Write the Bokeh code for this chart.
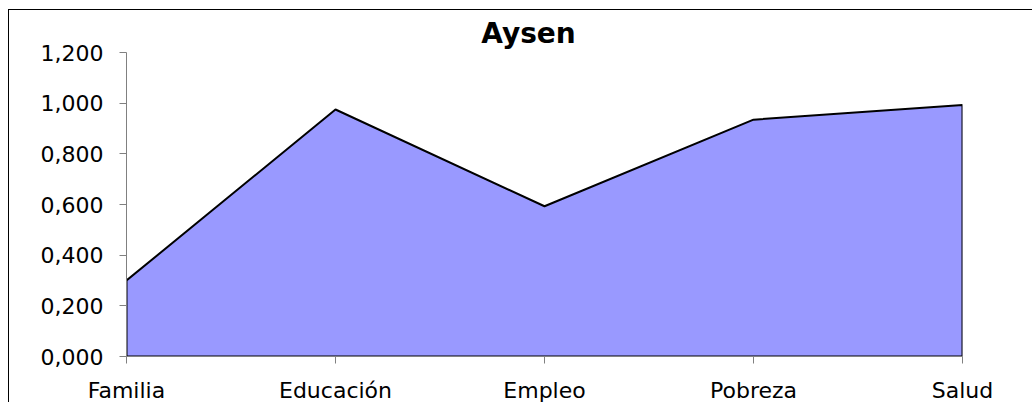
from bokeh.plotting import figure
from bokeh.models import FixedTicker, CustomJSTickFormatter, Range1d, Label
from bokeh.embed import file_html
from bokeh.resources import INLINE

title_text = "Aysen"
categories = ["Familia", "Educación", "Empleo", "Pobreza", "Salud"]
values = [0.300, 0.975, 0.593, 0.935, 0.993]
y_ticks = [0.0, 0.2, 0.4, 0.6, 0.8, 1.0, 1.2]

FONT = "DejaVu Sans"

W, H = 1023, 392
FL, FW = 117, 836
FT, FH = 0, 346
PX_PER_UNIT = 253.33
y_top = 1.2 + (52 - 10) / PX_PER_UNIT

p = figure(width=W, height=H, output_backend="svg", toolbar_location=None,
           x_range=Range1d(0, len(categories) - 1), y_range=Range1d(0, y_top),
           min_border_left=FL, min_border_right=W - FL - FW,
           min_border_top=FT, min_border_bottom=H - FT - FH)
p.styles = {"margin-left": "8px", "margin-top": "9px",
            "border-left": "1px solid #000000", "border-top": "1px solid #000000"}
p.frame_width = FW
p.frame_height = FH
p.outline_line_color = None
p.xgrid.grid_line_color = None
p.ygrid.grid_line_color = None
p.background_fill_color = "white"
p.border_fill_color = "white"

xs = list(range(len(categories)))
px = [xs[0]] + xs + [xs[-1]]
py = [0.0] + values + [0.0]
p.patch(px, py, fill_color="#9999FF", line_color="#000000", line_width=2)

# axes
p.yaxis.ticker = FixedTicker(ticks=y_ticks)
p.yaxis.bounds = (y_ticks[0], y_ticks[-1])
p.yaxis.formatter = CustomJSTickFormatter(code="return tick.toFixed(3).replace('.', ',');")
p.xaxis.ticker = FixedTicker(ticks=xs)
p.xaxis.major_label_overrides = {i: c for i, c in enumerate(categories)}
for ax in (p.xaxis[0], p.yaxis[0]):
    ax.axis_line_color = "#808080"
    ax.major_tick_line_color = "#808080"
    ax.major_tick_out = 7
    ax.major_tick_in = 0
    ax.minor_tick_line_color = None
    ax.major_label_text_font = FONT
    ax.major_label_text_font_size = "22px"
    ax.major_label_text_color = "#000000"
p.yaxis.major_label_standoff = 16
p.xaxis.major_label_standoff = 14

lbl = Label(x=(528 - 126) / 209, y=(356 - 33) / PX_PER_UNIT, text=title_text,
            text_font=FONT, text_font_size="28px", text_font_style="bold",
            text_align="center", text_baseline="middle", text_color="#000000")
p.add_layout(lbl)

open("out.html", "w").write(file_html(p, INLINE))
